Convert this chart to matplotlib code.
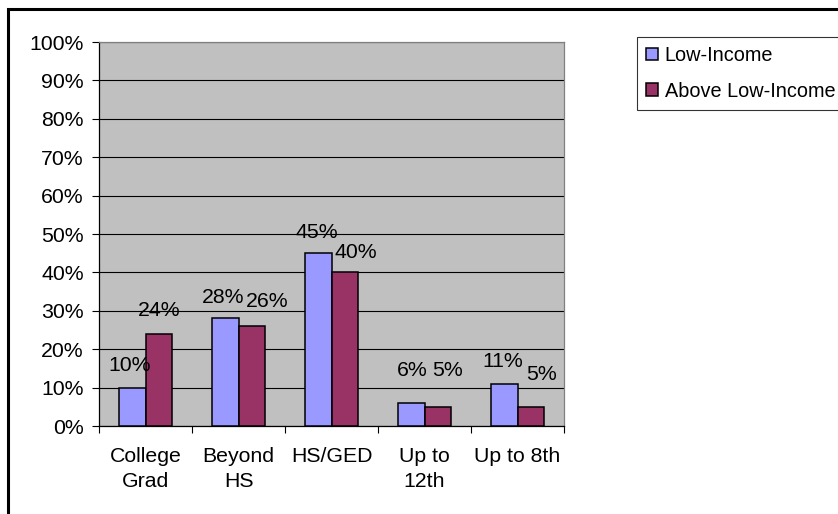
import numpy as np
import matplotlib
matplotlib.use('Agg')
import matplotlib.pyplot as plt
from matplotlib.patches import Rectangle

plt.rcParams['font.family'] = ['Liberation Sans', 'DejaVu Sans']

categorias = ["College\nGrad", "Beyond\nHS", "HS/GED", "Up to\n12th", "Up to 8th"]
low_income = [0.10, 0.28, 0.45, 0.06, 0.11]
above_low_income = [0.24, 0.26, 0.40, 0.05, 0.05]
etiquetas_y = ["0%", "10%", "20%", "30%", "40%", "50%", "60%", "70%", "80%", "90%", "100%"]

# desplazamientos de las etiquetas (pixeles) respecto al centro superior de cada barra
nudge_low = [(-2, 22), (-2, 21), (-1, 21), (1, 32), (-1, 22)]
nudge_above = [(0, 23), (15, 25), (11, 20), (10, 36), (11, 32)]

FS = 15.3

fig = plt.figure(figsize=(8.38, 5.14), dpi=100)
fig.patch.set_facecolor('white')
ax = fig.add_axes([99/838, 1 - 426/514, 465/838, 384/514])
ax.set_facecolor('#C0C0C0')

x = np.arange(len(categorias))
ancho = 0.29
b1 = ax.bar(x - ancho/2, low_income, ancho, color='#9999FF', edgecolor='black', linewidth=1.1, label='Low-Income', zorder=3)
b2 = ax.bar(x + ancho/2, above_low_income, ancho, color='#993366', edgecolor='black', linewidth=1.1, label='Above Low-Income', zorder=3)

for barras, vals, nudges in [(b1, low_income, nudge_low), (b2, above_low_income, nudge_above)]:
    for b, v, (dx, dy) in zip(barras, vals, nudges):
        ax.annotate("{}%".format(int(round(v*100))), (b.get_x() + b.get_width()/2, v),
                    xytext=(dx, dy), textcoords='offset pixels', ha='center', va='center',
                    fontsize=FS, zorder=4)

ax.set_ylim(0, 1)
ax.set_xlim(-0.5, len(categorias) - 0.5)
ax.set_yticks(np.linspace(0, 1, 11))
ax.set_yticklabels(etiquetas_y, fontsize=FS)
ax.yaxis.grid(True, color='black', linewidth=0.8)
ax.set_axisbelow(True)
ax.tick_params(axis='y', length=5, width=0.8, pad=6, direction='out')

ax.set_xticks(np.arange(len(categorias) + 1) - 0.5)
ax.set_xticklabels([])
ax.set_xticks(x, minor=True)
ax.set_xticklabels(categorias, minor=True, fontsize=FS, linespacing=1.4)
ax.tick_params(axis='x', which='major', length=5, width=0.8, direction='out')
ax.tick_params(axis='x', which='minor', length=0, pad=15)

ax.spines['left'].set_color('black')
ax.spines['bottom'].set_color('black')
ax.spines['top'].set_color('#808080')
ax.spines['right'].set_color('#808080')
for s in ax.spines.values():
    s.set_linewidth(0.9)

leg = fig.legend(handles=[b1, b2], loc='upper left', bbox_to_anchor=(637/838, 1 - 37/514),
                 fontsize=14.3, frameon=True, fancybox=False, shadow=False,
                 handlelength=0.62, handleheight=0.62, handletextpad=0.33,
                 labelspacing=0.85, borderpad=0.45, borderaxespad=0)
leg.get_frame().set_edgecolor('black')
leg.get_frame().set_linewidth(0.8)

# marco exterior del grafico (recortado en la imagen original)
fig.add_artist(Rectangle((8/838, -1), 2, 1 + (1 - 9/514), transform=fig.transFigure,
                         fill=False, edgecolor='black', linewidth=2.2))

plt.savefig('out.png', dpi=100)
plt.close()
